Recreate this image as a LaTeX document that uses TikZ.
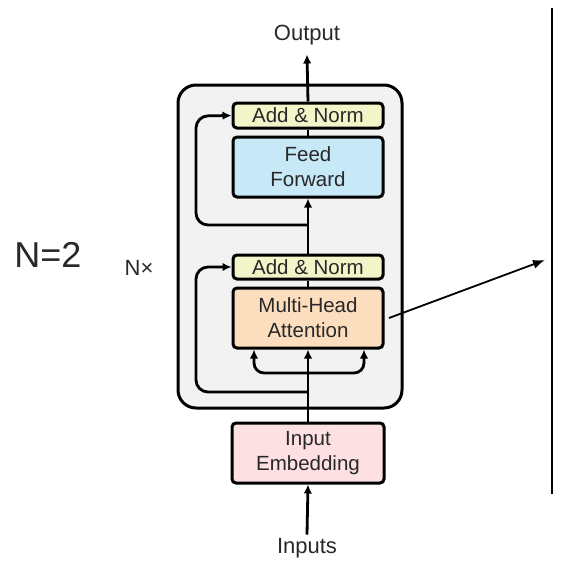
\documentclass[tikz,border=0pt]{standalone}
\usepackage{fontspec}
\setmainfont{Liberation Sans}
\usetikzlibrary{calc, positioning, arrows.meta}

\definecolor{stackcol}{RGB}{242,242,242}
\definecolor{normcol}{RGB}{243,245,201}
\definecolor{ffcol}{RGB}{199,232,247}
\definecolor{attcol}{RGB}{252,222,190}
\definecolor{embcol}{RGB}{252,224,226}
\definecolor{txtcol}{RGB}{40,40,40}

\tikzset{
  block/.style={draw, line width=3pt, rounded corners=4pt, minimum width=150pt,
    align=center, text=txtcol, font=\fontsize{20.5}{25}\selectfont},
  flow/.style={line width=2.8pt, -{Latex[length=9pt,width=8.5pt]}},
  plain/.style={line width=2.8pt},
  label/.style={text=txtcol, font=\fontsize{22}{26}\selectfont}
}

\begin{document}
\begin{tikzpicture}[x=1pt, y=-1pt]
  \useasboundingbox (0,0) rectangle (563,566);
  % the repeated stack
  \node [draw, line width=3pt, fill=stackcol, rounded corners=18pt,
    minimum width=224pt, minimum height=323pt] (stack) at (290,246.5) {};
  \node [text=txtcol, font=\fontsize{22}{26}\selectfont] (nx) at (139,268) {N×};
  \node [text=txtcol, font=\fontsize{36}{40}\selectfont] (n) at (48,255) {N=2};

  \node [block, fill=normcol, minimum height=25pt] (norm2) at (308,115.5) {Add \& Norm};
  \node [block, fill=ffcol, minimum height=60pt] (ff) at (308,167) {Feed\\Forward};
  \node [block, fill=normcol, minimum height=24pt] (norm1) at (308,267) {Add \& Norm};
  \node [block, fill=attcol, minimum height=60pt] (mha) at (308,318) {Multi-Head\\Attention};
  \node [block, fill=embcol, minimum height=60pt, minimum width=152pt] (emb) at (308,453) {Input\\Embedding};

  \node [label] (out) at (307,35) {Output};
  \node [label] (inp) at (307,548) {Inputs};

  % main path
  \draw [flow] (inp.north) -- (emb.south);
  \draw [flow] (emb.north) -- (mha.south);
  \draw [plain] (mha.north) -- (norm1.south);
  \draw [flow] (norm1.north) -- (ff.south);
  \draw [plain] (ff.north) -- (norm2.south);
  \draw [flow] (norm2.north) -- ([yshift=-6pt]out.south);

  % forks into the attention
  \coordinate (fork) at (308,373);
  \draw [flow, rounded corners=10pt] (fork) -| ([xshift=-54pt]mha.south);
  \draw [flow, rounded corners=10pt] (fork) -| ([xshift=56pt]mha.south);

  % residual connections
  \coordinate (split1) at (308,392);
  \coordinate (loop1) at (196,267);
  \draw [flow, rounded corners=12pt] (split1) -| (loop1) -- (norm1.west);
  \coordinate (split2) at (308,225);
  \coordinate (loop2) at (196,116);
  \draw [flow, rounded corners=12pt] (split2) -| (loop2) -- (norm2.west);

  % pointer to the right
  \coordinate (from) at (389,318);
  \coordinate (to) at (545,260);
  \draw [line width=1.8pt, -{Latex[length=12pt,width=9pt]}] (from) -- (to);
  \coordinate (bartop) at (552,8);
  \coordinate (barbot) at (552,494);
  \draw [line width=2.4pt] (bartop) -- (barbot);
\end{tikzpicture}
\end{document}
